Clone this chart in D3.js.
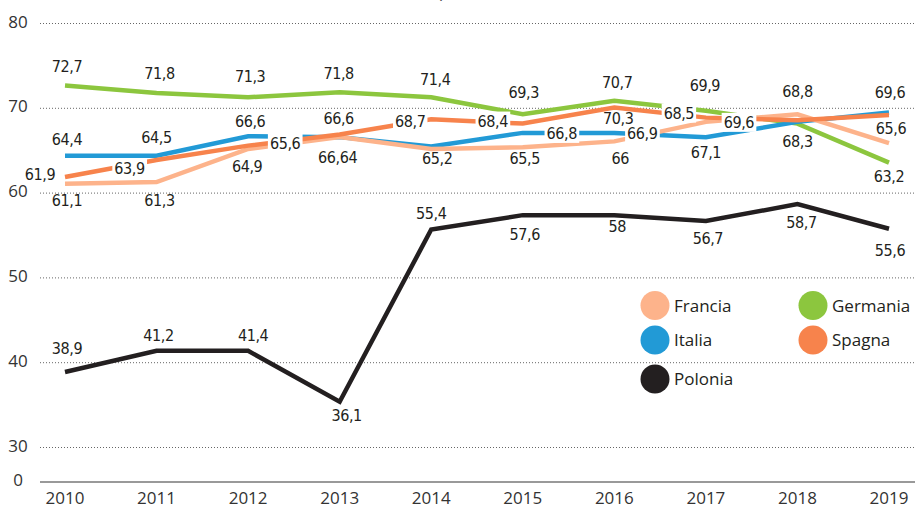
<!DOCTYPE html>
<html>
<head>
<meta charset="utf-8">
<script src="https://cdn.jsdelivr.net/npm/d3@7"></script>
<style>
  body { margin: 0; background: #fff; }
</style>
</head>
<body>
<div id="chart"></div>
<script>
"use strict"

let width = 915;
let height = 508;

// data
let years = [2010, 2011, 2012, 2013, 2014, 2015, 2016, 2017, 2018, 2019];
let yTicks = [80, 70, 60, 50, 40, 30];

let francia  = [61.1, 61.3, 65.2, 66.6, 65.2, 65.4, 66.1, 68.4, 69.3, 65.9];
let italia   = [64.4, 64.4, 66.7, 66.6, 65.5, 67.1, 67.1, 66.6, 68.4, 69.5];
let spagna   = [61.9, 63.9, 65.6, 66.9, 68.7, 68.2, 70.1, 68.9, 68.6, 69.2];
let germania = [72.7, 71.8, 71.3, 71.9, 71.3, 69.3, 70.9, 69.7, 68.2, 63.6];
let polonia  = [38.9, 41.4, 41.4, 35.4, 55.7, 57.4, 57.4, 56.7, 58.7, 55.8];

// value labels as printed on the chart
let labFrancia  = ["61,1", "61,3", "64,9", "66,64", "65,2", "65,5", "66", "69,6", "68,8", "65,6"];
let labItalia   = ["64,4", "64,5", "66,6", null, null, "66,8", "66,9", "67,1", null, "69,6"];
let labSpagna   = ["61,9", "63,9", "65,6", "66,6", "68,7", "68,4", "70,3", "68,5", null, null];
let labGermania = ["72,7", "71,8", "71,3", "71,8", "71,4", "69,3", "70,7", "69,9", "68,3", "63,2"];
let labPolonia  = ["38,9", "41,2", "41,4", "36,1", "55,4", "57,6", "58", "56,7", "58,7", "55,6"];

// label placement: [dx, dy, boxed]
let posFrancia  = [[2,22],[3,24],[-1,23],[-2,26],[6,15],[2,17],[6,23],[33,6,1],[0,-17],[2,-9]];
let posItalia   = [[2,-11],[0,-13],[2,-9],null,null,[39,6,1],[28,6,1],[0,21],null,[1,-15]];
let posSpagna   = [[-25,3],[-27,14,1],[37,3,1],[-1,-11],[-21,8,1],[-30,3,1],[4,17],[-27,1,1],null,null];
let posGermania = [[2,-13],[3,-14],[2,-15],[-1,-13],[4,-12],[1,-16],[3,-13],[-1,-20],[0,23],[0,19]];
let posPolonia  = [[2,-18],[2,-10],[5,-10],[7,19],[0,-11],[2,25],[3,17],[2,23],[4,24],[1,27]];

let series = [
    {name: "Polonia",  values: polonia,  labels: labPolonia,  pos: posPolonia,  color: "#231f20"},
    {name: "Germania", values: germania, labels: labGermania, pos: posGermania, color: "#8cc63e"},
    {name: "Italia",   values: italia,   labels: labItalia,   pos: posItalia,   color: "#229ad6"},
    {name: "Francia",  values: francia,  labels: labFrancia,  pos: posFrancia,  color: "#fdb38b"},
    {name: "Spagna",   values: spagna,   labels: labSpagna,   pos: posSpagna,   color: "#f7834c"}
];

let legendOrder = ["Francia", "Germania", "Italia", "Spagna", "Polonia"];

let svg = d3.select("#chart")
    .append("svg")
    .attr("width", width)
    .attr("height", height);

let x = d3.scalePoint()
    .domain(years)
    .range([65, 889]);

let y = d3.scaleLinear()
    .domain([30, 80])
    .range([447.5, 23.5]);

let baseY = 482;
let labelFont = "'Liberation Sans Narrow', 'DejaVu Sans Condensed', sans-serif";
let axisFont = "'Open Sans', sans-serif";

// title, mostly cut off at the top edge
svg.append("text")
    .attr("x", 535)
    .attr("y", -3)
    .attr("text-anchor", "end")
    .attr("font-family", axisFont)
    .attr("font-size", 18)
    .attr("fill", "#555")
    .text("Tasso di occupazione (%)");

/* dotted grid lines */
svg.append("g")
    .selectAll("line")
    .data(yTicks)
    .join("line")
    .attr("x1", 40)
    .attr("x2", width)
    .attr("y1", d => y(d))
    .attr("y2", d => y(d))
    .attr("stroke", "#666")
    .attr("stroke-width", 1)
    .attr("stroke-dasharray", "1,2");

/* base line */
svg.append("line")
    .attr("x1", 40)
    .attr("x2", width)
    .attr("y1", baseY)
    .attr("y2", baseY)
    .attr("stroke", "#999")
    .attr("stroke-width", 2);

/* y labels */
svg.append("g")
    .selectAll("text")
    .data(yTicks)
    .join("text")
    .attr("x", 18)
    .attr("y", d => y(d) + 4)
    .attr("text-anchor", "middle")
    .attr("font-family", axisFont)
    .attr("font-size", 17)
    .attr("fill", "#333")
    .text(d => d);

svg.append("text")
    .attr("x", 18)
    .attr("y", baseY + 4)
    .attr("text-anchor", "middle")
    .attr("font-family", axisFont)
    .attr("font-size", 17)
    .attr("fill", "#333")
    .text("0");

/* x labels */
svg.append("g")
    .selectAll("text")
    .data(years)
    .join("text")
    .attr("x", d => x(d))
    .attr("y", 504)
    .attr("text-anchor", "middle")
    .attr("font-family", axisFont)
    .attr("font-size", 17)
    .attr("fill", "#333")
    .text(d => d);

/* lines */
let line = d3.line()
    .x((d, i) => x(years[i]))
    .y(d => y(d));

svg.append("g")
    .selectAll("path")
    .data(series)
    .join("path")
    .attr("d", d => line(d.values))
    .attr("fill", "none")
    .attr("stroke", d => d.color)
    .attr("stroke-width", 4.5);

/* value labels */
let labelG = svg.append("g");
series.forEach(s => {
    s.labels.forEach((t, i) => {
        if (t === null) return;
        let p = s.pos[i];
        let tx = x(years[i]) + p[0];
        let ty = y(s.values[i]) + p[1];
        let g = labelG.append("g");
        let txt = g.append("text")
            .attr("x", tx)
            .attr("y", ty)
            .attr("text-anchor", "middle")
            .attr("font-family", labelFont)
            .attr("font-size", 16)
            .attr("letter-spacing", -0.4)
            .attr("fill", "#231f20")
            .text(t);
        if (p[2]) {
            let bb = txt.node().getBBox();
            g.insert("rect", "text")
                .attr("x", bb.x - 2)
                .attr("y", bb.y)
                .attr("width", bb.width + 4)
                .attr("height", bb.height)
                .attr("fill", "#fff");
        }
    });
});

/* legend */
let legendPos = {
    Francia:  [655, 305.5],
    Germania: [813, 305.5],
    Italia:   [655, 340],
    Spagna:   [813, 340],
    Polonia:  [655, 379]
};

let legend = svg.append("g")
    .selectAll("g")
    .data(legendOrder.map(n => series.find(s => s.name === n)))
    .join("g")
    .attr("transform", d => "translate(" + legendPos[d.name][0] + "," + legendPos[d.name][1] + ")");

legend.append("circle")
    .attr("r", 14.5)
    .attr("fill", d => d.color);

legend.append("text")
    .attr("x", 19)
    .attr("y", 6)
    .attr("font-family", axisFont)
    .attr("font-size", 17)
    .attr("fill", "#231f20")
    .text(d => d.name);
</script>
</body>
</html>
